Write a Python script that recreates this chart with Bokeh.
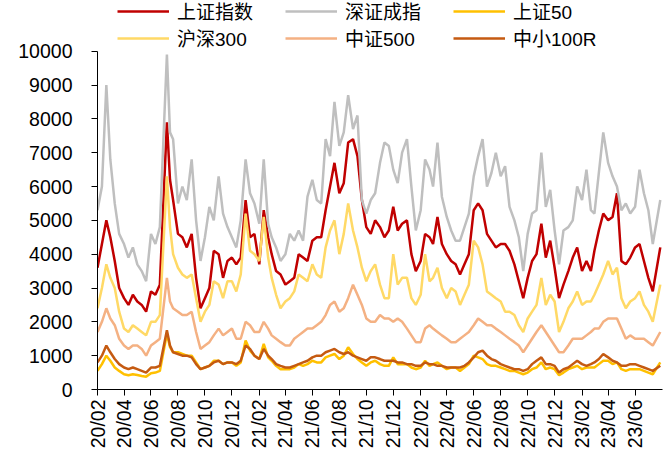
import math
from datetime import datetime
from bokeh.plotting import figure
from bokeh.models import Legend, LegendItem, FixedTicker, DatetimeTickFormatter, Range1d
from bokeh.embed import file_html
from bokeh.resources import INLINE

dates = [
    "2020-02-01", "2020-02-11", "2020-02-21", "2020-03-01", "2020-03-11", "2020-03-21",
    "2020-04-01", "2020-04-11", "2020-04-21", "2020-05-01", "2020-05-11", "2020-05-21",
    "2020-06-01", "2020-06-11", "2020-06-21", "2020-07-07", "2020-07-14", "2020-07-21",
    "2020-08-01", "2020-08-11", "2020-08-21", "2020-09-01", "2020-09-11", "2020-09-21",
    "2020-10-01", "2020-10-11", "2020-10-21", "2020-11-01", "2020-11-11", "2020-11-21",
    "2020-12-01", "2020-12-11", "2020-12-21",
    "2021-01-01", "2021-01-11", "2021-01-21", "2021-02-01", "2021-02-11", "2021-02-21",
    "2021-03-01", "2021-03-11", "2021-03-21", "2021-04-01", "2021-04-11", "2021-04-21",
    "2021-05-01", "2021-05-11", "2021-05-21", "2021-06-01", "2021-06-11", "2021-06-21",
    "2021-07-01", "2021-07-11", "2021-07-21", "2021-08-01", "2021-08-11", "2021-08-21",
    "2021-09-01", "2021-09-11", "2021-09-21", "2021-10-01", "2021-10-11", "2021-10-21",
    "2021-11-01", "2021-11-11", "2021-11-21", "2021-12-01", "2021-12-11", "2021-12-21",
    "2022-01-01", "2022-01-11", "2022-01-21", "2022-02-01", "2022-02-11", "2022-02-21",
    "2022-03-01", "2022-03-11", "2022-03-21", "2022-04-01", "2022-04-11", "2022-04-21",
    "2022-05-01", "2022-05-11", "2022-05-21", "2022-06-01", "2022-06-11", "2022-06-21",
    "2022-07-01", "2022-07-11", "2022-07-21", "2022-08-01", "2022-08-11", "2022-08-21",
    "2022-09-01", "2022-09-11", "2022-09-21", "2022-10-01", "2022-10-11", "2022-10-21",
    "2022-11-01", "2022-11-11", "2022-11-21", "2022-12-01", "2022-12-11", "2022-12-21",
    "2023-01-01", "2023-01-11", "2023-01-21", "2023-02-01", "2023-02-11", "2023-02-21",
    "2023-03-01", "2023-03-11", "2023-03-21", "2023-04-01", "2023-04-11", "2023-04-21",
    "2023-05-01", "2023-05-11", "2023-05-21", "2023-06-01", "2023-06-11", "2023-06-21",
    "2023-07-01", "2023-07-11", "2023-07-28",
]

shanghai = [
    3600, 4300, 5000, 4500, 3800, 3000, 2700, 2500, 2800, 2600, 2500, 2300, 2900, 2800, 3100,
    7900, 6200, 5600, 4600, 4500, 4200, 4600, 3300, 2400, 2700, 3000, 4100, 4000, 3300, 3800,
    3900, 3700, 3900,
    5600, 4500, 4600, 3700, 5300, 4500, 4000, 3500, 3400, 3100, 3200, 3300, 4000, 3900, 3800,
    4400, 4500, 4500, 5300, 6000, 6700, 5800, 6100, 7300, 7400, 6900, 5600, 4800, 4600, 5000,
    4800, 4500, 4700,
    5400, 4700, 4900, 5000, 4000, 3500, 3800, 4600, 4500, 4300, 5100, 4300, 4000, 3800, 3700,
    3400, 3700, 4000, 5300, 5500, 5300, 4600, 4400, 4200, 4300, 4300, 4100, 3700, 3200, 2700,
    3300, 3800, 4000, 4900, 3900, 4400, 3600, 2700, 3100, 3500, 3900, 4200, 3500, 3800, 3500,
    4100, 4700, 5200, 5000, 5100, 5800, 3800, 3700, 3900, 4200, 4300, 3800, 3300, 2900, 4200,
]

shenzhen = [
    5300, 6000, 9000, 6800, 5500, 4600, 4300, 3900, 4200, 3700, 3500, 3200, 4600, 4300, 4800,
    9900, 7600, 7400, 5500, 6000, 5600, 6800, 5000, 3800, 4500, 5400, 5000, 6300, 5200, 4800,
    4500, 4200, 5000,
    6800, 5800, 5500, 4900, 6800, 4900, 4500, 4200, 3800, 4000, 4600, 4400, 4700, 4400, 5700,
    6200, 5600, 5500, 7400, 6900, 8500, 7200, 7600, 8700, 7700, 8100, 5600, 5200, 5600, 5800,
    6700, 7300, 7200,
    6500, 6100, 7000, 7400, 6000, 4700, 5300, 6800, 6500, 6000, 7300, 5700, 5100, 4700, 4400,
    4400, 4800, 5200, 6300, 6900, 7400, 6000, 6400, 7000, 6300, 6600, 5400, 5000, 4500, 3500,
    4600, 5200, 5300, 7000, 5400, 5900, 4700, 3700, 4700, 4800, 5000, 6000, 5600, 6500, 5300,
    5200, 6400, 7600, 6700, 6300, 6000, 5300, 5500, 5200, 5400, 6500, 5800, 5300, 4300, 5600,
]

sse50 = [
    550, 750, 1000, 850, 650, 550, 450, 420, 450, 430, 400, 380, 480, 500, 550,
    1650, 1250, 1100, 1100, 1050, 1000, 1000, 800, 600, 650, 700, 850, 850, 750, 800,
    800, 700, 800,
    1450, 1150, 1000, 900, 1350, 950, 850, 700, 600, 600, 600, 650, 750, 700, 750,
    850, 800, 800, 950, 1000, 1050, 900, 1000, 1250, 1050, 900, 800, 700, 800, 850,
    750, 700, 700,
    950, 750, 750, 750, 650, 600, 650, 850, 700, 750, 800, 700, 600, 650, 650,
    550, 650, 750, 1000, 950, 900, 750, 700, 700, 650, 600, 550, 550, 500, 450,
    500, 600, 650, 800, 600, 650, 600, 420, 500, 600, 650, 700, 600, 650, 650,
    650, 750, 850, 850, 750, 800, 600, 550, 600, 600, 600, 550, 500, 450, 800,
]

hs300 = [
    2400, 3000, 3700, 3300, 3000, 2300, 1800, 1700, 1900, 1800, 1700, 1600, 2000, 2000, 2200,
    6300, 4800, 4000, 3600, 3400, 3300, 3400, 2700, 2000, 2300, 2500, 3200, 3100, 2700, 3200,
    3200, 2900, 3400,
    5200, 4100, 4000, 3800, 5100, 3900, 3300, 2800, 2400, 2600, 2700, 2900, 3400, 3300, 3200,
    3700, 3400, 3300, 4200, 4700, 5000, 4000, 4600, 5500, 4700, 4200, 3600, 3200, 3500, 3700,
    3100, 2700, 2700,
    4000, 3100, 3300, 3300, 2700, 2500, 2800, 4000, 3200, 3300, 3600, 3000, 2700, 3000, 2900,
    2500, 2800, 3100, 4400, 4200, 3700, 2900, 2800, 2700, 2600, 2300, 2300, 2200, 1900, 1700,
    2100, 2300, 2500, 3300, 2500, 2800, 2600, 1700, 2000, 2400, 2600, 2900, 2500, 2600, 2600,
    2800, 3100, 3400, 3800, 3400, 3600, 2700, 2400, 2600, 2700, 2900, 2500, 2300, 2000, 3100,
]

csi500 = [
    1700, 2000, 2400, 2100, 1900, 1500, 1300, 1200, 1300, 1300, 1200, 1000, 1300, 1400, 1500,
    3300, 2600, 2400, 2300, 2200, 2200, 2300, 1700, 1200, 1300, 1400, 1600, 1800, 1600, 1700,
    1800, 1500, 1500,
    2000, 1900, 1700, 1700, 2000, 1800, 1600, 1500, 1400, 1300, 1300, 1500, 1600, 1700, 1800,
    1800, 1900, 2000, 2200, 2500, 2600, 2300, 2400, 2700, 3100, 2800, 2500, 2100, 2000, 2000,
    2200, 2100, 2100,
    2000, 2100, 2000, 1800, 1600, 1400, 1400, 1800, 1900, 1800, 1700, 1600, 1500, 1400, 1400,
    1500, 1600, 1700, 1900, 2100, 2000, 1900, 1900, 1800, 1700, 1600, 1500, 1400, 1300, 1100,
    1300, 1500, 1700, 1900, 1700, 1500, 1300, 1100, 1100, 1300, 1500, 1500, 1500, 1600, 1700,
    1800, 1800, 2000, 2100, 2100, 2100, 1800, 1500, 1600, 1500, 1500, 1500, 1400, 1300, 1700,
]

sme100r = [
    800, 1000, 1300, 1100, 900, 750, 650, 600, 650, 600, 550, 500, 650, 650, 700,
    1750, 1300, 1100, 1050, 1000, 1000, 950, 750, 600, 650, 700, 800, 850, 750, 800,
    800, 750, 850,
    1300, 1200, 1000, 900, 1200, 1000, 900, 750, 700, 650, 650, 700, 750, 800, 850,
    950, 1000, 1000, 1100, 1150, 1200, 1100, 1050, 1100, 1000, 950, 900, 850, 950, 950,
    900, 850, 850,
    850, 800, 800, 750, 750, 700, 700, 800, 750, 750, 700, 700, 650, 650, 650,
    650, 700, 800, 950, 1100, 1150, 1000, 900, 850, 750, 700, 650, 600, 600, 550,
    600, 750, 850, 950, 750, 750, 700, 500, 600, 650, 750, 850, 750, 700, 750,
    800, 900, 1050, 950, 850, 800, 700, 700, 750, 750, 700, 650, 600, 550, 700,
]

names = ["上证指数", "深证成指", "上证50", "沪深300", "中证500", "中小100R"]
colors = ["#C00000", "#BFBFBF", "#FFC000", "#FFD966", "#F4B183", "#C55A11"]
series = [shanghai, shenzhen, sse50, hs300, csi500, sme100r]

tick_dates = [
    "2020-02-01", "2020-04-01", "2020-06-01", "2020-08-01", "2020-10-01", "2020-12-01",
    "2021-02-01", "2021-04-01", "2021-06-01", "2021-08-01", "2021-10-01", "2021-12-01",
    "2022-02-01", "2022-04-01", "2022-06-01", "2022-08-01", "2022-10-01", "2022-12-01",
    "2023-02-01", "2023-04-01", "2023-06-01",
]
y_ticks = [0, 1000, 2000, 3000, 4000, 5000, 6000, 7000, 8000, 9000, 10000]

x = [datetime.strptime(d, "%Y-%m-%d") for d in dates]
epoch = datetime(1970, 1, 1)
tick_ms = [(datetime.strptime(d, "%Y-%m-%d") - epoch).total_seconds() * 1000 for d in tick_dates]

# the frame spans the full figure height above the x axis; the y axis is bounded
# to 0..10000 and the band above 10000 holds the legend rows
W, H = 670, 458
BOTTOM = 69
FRAME_H = H - BOTTOM
DATA_H = FRAME_H - 50.7
y_top = 10000 * FRAME_H / DATA_H

p = figure(width=W, height=H, x_axis_type="datetime",
           output_backend="svg", toolbar_location=None,
           x_range=Range1d(datetime(2020, 2, 1), datetime(2023, 8, 2)),
           y_range=Range1d(0, y_top),
           min_border_left=97, min_border_right=8, min_border_top=0,
           min_border_bottom=BOTTOM)
p.outline_line_color = None
p.grid.visible = False
p.background_fill_color = "white"

FONT = "'Liberation Sans', 'Noto Sans CJK SC'"

renderers = []
for vals, c in zip(series, colors):
    r = p.line(x, vals, line_color=c, line_width=2.5)
    renderers.append(r)

ya = p.yaxis[0]
ya.axis_label = None
ya.ticker = FixedTicker(ticks=y_ticks)
ya.bounds = (0, 10000)
ya.major_label_text_font = "Liberation Sans"
ya.major_label_text_font_size = "19.5px"
ya.major_label_text_color = "#000000"
ya.major_tick_out = 6
ya.major_tick_in = 0
ya.minor_tick_line_color = None
ya.major_label_standoff = 19
ya.axis_line_color = "#000000"
ya.major_tick_line_color = "#000000"

xa = p.xaxis[0]
xa.axis_label = None
xa.ticker = FixedTicker(ticks=tick_ms)
xa.formatter = DatetimeTickFormatter(
    microseconds="%y/%m", milliseconds="%y/%m", seconds="%y/%m", minsec="%y/%m",
    minutes="%y/%m", hourmin="%y/%m", hours="%y/%m", days="%y/%m",
    months="%y/%m", years="%y/%m")
xa.major_label_orientation = math.pi / 2
xa.major_label_text_font = "Liberation Sans"
xa.major_label_text_font_size = "19.5px"
xa.major_label_text_color = "#000000"
xa.major_tick_out = 6
xa.major_tick_in = 0
xa.minor_tick_line_color = None
xa.major_label_standoff = 4
xa.axis_line_color = "#000000"
xa.major_tick_line_color = "#000000"


def make_legend(idx, top, h):
    items = [LegendItem(label=names[i], renderers=[renderers[i]]) for i in idx]
    return Legend(items=items, orientation="horizontal", location=(20, FRAME_H - top - h),
                  glyph_width=52, glyph_height=h, label_width=101, label_height=h,
                  label_standoff=8, spacing=7, padding=0, margin=0,
                  border_line_color=None, background_fill_alpha=0,
                  label_text_font=FONT, label_text_font_size="19px",
                  label_text_color="#000000")


p.add_layout(make_legend([0, 1, 2], 4, 20))
p.add_layout(make_legend([3, 4, 5], 31, 20))

open("out.html", "w").write(file_html(p, INLINE))
